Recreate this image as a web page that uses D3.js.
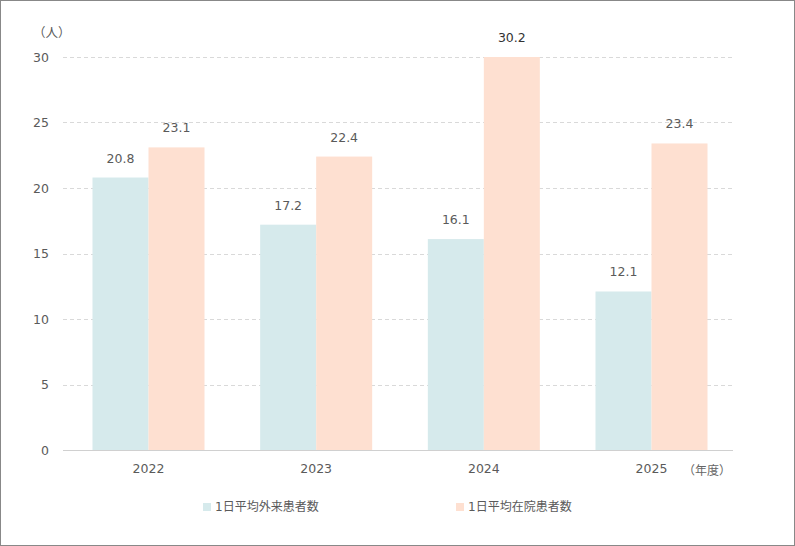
<!DOCTYPE html>
<html>
<head>
<meta charset="utf-8">
<script src="https://cdn.jsdelivr.net/npm/d3@7"></script>
<style>
  html, body { margin: 0; padding: 0; background: #fff; }
  #chart { width: 795px; height: 546px; }
  text { font-family: "DejaVu Sans", "Noto Sans CJK JP", sans-serif; }
</style>
</head>
<body>
<div id="chart"></div>
<script>
// data
var years = ["2022", "2023", "2024", "2025"];
var outpatients = [20.8, 17.2, 16.1, 12.1];
var inpatients = [23.1, 22.4, 30.2, 23.4];
var seriesNames = ["1日平均外来患者数", "1日平均在院患者数"];
var yTicks = [0, 5, 10, 15, 20, 25, 30];

var colors = ["#d6eaec", "#fee0d1"];

function drawChart() {
    var W = 795, H = 546;
    var margin = { top: 57, right: 62, bottom: 96, left: 63 };
    var width = W - margin.left - margin.right;
    var height = H - margin.top - margin.bottom;

    var svg = d3.select("#chart").append("svg")
        .attr("width", W)
        .attr("height", H);

    // outer frame
    svg.append("rect")
        .attr("x", 0.5).attr("y", 0.5)
        .attr("width", W - 1).attr("height", H - 1)
        .attr("fill", "#fff")
        .attr("stroke", "#888");

    var g = svg.append("g")
        .attr("transform", "translate(" + margin.left + "," + margin.top + ")");

    var x0 = d3.scaleBand()
        .domain(years)
        .range([2, width + 2])
        .paddingInner(0.332)
        .paddingOuter(0.164);

    var x1 = d3.scaleBand()
        .domain([0, 1])
        .range([0, x0.bandwidth()]);

    var y = d3.scaleLinear()
        .domain([0, 30])
        .range([height, 0])
        .clamp(true);

    // grid lines
    g.selectAll(".grid")
        .data(yTicks.filter(function (d) { return d > 0; }))
        .enter()
        .append("line")
        .attr("x1", 0).attr("x2", width)
        .attr("y1", function (d) { return Math.round(y(d)) + 0.5; })
        .attr("y2", function (d) { return Math.round(y(d)) + 0.5; })
        .attr("stroke", "#d9d9d9")
        .attr("stroke-dasharray", "4,3");

    // y axis labels
    var yAxis = d3.axisLeft(y).tickValues(yTicks).tickSize(0).tickPadding(14);
    var ya = g.append("g").call(yAxis);
    ya.select(".domain").remove();
    ya.selectAll("text")
        .style("font-size", "12.5px")
        .attr("fill", "#5a5a5a");

    g.append("text")
        .attr("x", -30)
        .attr("y", -20)
        .attr("fill", "#5a5a5a")
        .style("font-size", "12.5px")
        .text("（人）");

    var rows = years.map(function (yr, i) {
        return { year: yr, values: [outpatients[i], inpatients[i]] };
    });

    var groups = g.selectAll(".grp")
        .data(rows)
        .enter()
        .append("g")
        .attr("transform", function (d) { return "translate(" + x0(d.year) + ",0)"; });

    groups.selectAll("rect")
        .data(function (d) { return d.values; })
        .enter()
        .append("rect")
        .attr("x", function (d, i) { return x1(i); })
        .attr("y", function (d) { return y(d); })
        .attr("width", x1.bandwidth())
        .attr("height", function (d) { return height - y(d); })
        .attr("fill", function (d, i) { return colors[i]; });

    groups.selectAll(".val")
        .data(function (d) { return d.values; })
        .enter()
        .append("text")
        .attr("x", function (d, i) { return x1(i) + x1.bandwidth() / 2; })
        .attr("y", function (d) { return y(d) - 15; })
        .attr("text-anchor", "middle")
        .attr("fill", function (d) { return d > 30 ? "#333" : "#5a5a5a"; })
        .style("font-size", "12.5px")
        .text(function (d) { return d.toFixed(1); });

    // baseline
    g.append("line")
        .attr("x1", 0).attr("x2", width)
        .attr("y1", height + 0.5).attr("y2", height + 0.5)
        .attr("stroke", "#d0d0d0");

    // x axis labels
    var xAxis = d3.axisBottom(x0).tickSize(0).tickPadding(14);
    var xa = g.append("g")
        .attr("transform", "translate(0," + height + ")")
        .call(xAxis);
    xa.select(".domain").remove();
    xa.selectAll("text")
        .style("font-size", "12.5px")
        .attr("fill", "#5a5a5a");

    g.append("text")
        .attr("x", width - 50)
        .attr("y", height + 25)
        .attr("fill", "#666")
        .style("font-size", "12px")
        .text("（年度）");

    // legend
    var legendX = [203, 456];
    var legend = svg.selectAll(".legend")
        .data(seriesNames)
        .enter()
        .append("g")
        .attr("transform", function (d, i) { return "translate(" + legendX[i] + ",502)"; });

    legend.append("rect")
        .attr("width", 8).attr("height", 8)
        .attr("y", 1)
        .attr("fill", function (d, i) { return colors[i]; });

    legend.append("text")
        .attr("x", 12)
        .attr("y", 9)
        .attr("fill", "#5a5a5a")
        .style("font-size", "12px")
        .text(function (d) { return d; });
}

drawChart();
</script>
</body>
</html>
